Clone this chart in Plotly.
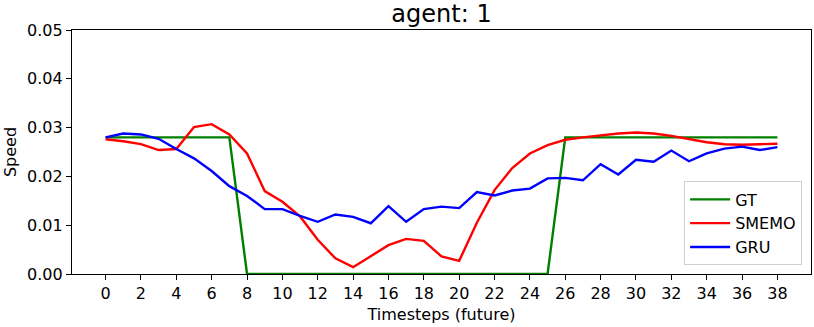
import plotly.graph_objects as go

# timesteps 0..38
timesteps = list(range(39))

gt_speed = [0.028] * 8 + [0.0] * 18 + [0.028] * 13

smemo_speed = [
    0.0276, 0.0272, 0.0266, 0.0254, 0.0256, 0.0301, 0.0307, 0.0286, 0.0247, 0.0170,
    0.0148, 0.0118, 0.0070, 0.0032, 0.0014, 0.0036, 0.0059, 0.0072, 0.0068, 0.0036,
    0.0027, 0.0105, 0.0172, 0.0217, 0.0247, 0.0264, 0.0275, 0.0280, 0.0284, 0.0288,
    0.0290, 0.0288, 0.0283, 0.0276, 0.0270, 0.0266, 0.0265, 0.0266, 0.0267,
]

gru_speed = [
    0.0280, 0.0288, 0.0286, 0.0277, 0.0256, 0.0237, 0.0211, 0.0180, 0.0160, 0.0133,
    0.0133, 0.0119, 0.0107, 0.0122, 0.0117, 0.0104, 0.0139, 0.0107, 0.0133, 0.0138,
    0.0135, 0.0168, 0.0161, 0.0171, 0.0175, 0.0196, 0.0197, 0.0192, 0.0225, 0.0204,
    0.0234, 0.0230, 0.0253, 0.0231, 0.0247, 0.0257, 0.0261, 0.0254, 0.0260,
]

x_ticks = list(range(0, 39, 2))
y_ticks = [0.0, 0.01, 0.02, 0.03, 0.04, 0.05]

font = "DejaVu Sans"
fsize = 16

fig = go.Figure()
fig.add_trace(go.Scatter(x=timesteps, y=gt_speed, mode="lines", name="GT",
                         line=dict(color="#008000", width=2.4)))
fig.add_trace(go.Scatter(x=timesteps, y=smemo_speed, mode="lines", name="SMEMO",
                         line=dict(color="#ff0000", width=2.4)))
fig.add_trace(go.Scatter(x=timesteps, y=gru_speed, mode="lines", name="GRU",
                         line=dict(color="#0000ff", width=2.4)))

axis_common = dict(
    showline=True, linecolor="black", linewidth=1.2, mirror=True,
    ticks="outside", ticklen=5, tickcolor="black", tickwidth=1,
    showgrid=False, zeroline=False, automargin=False,
    tickfont=dict(family=font, size=fsize, color="black"),
)

fig.update_xaxes(range=[-1.9, 39.9], tickvals=x_ticks,
                 title=dict(text="Timesteps (future)", font=dict(family=font, size=fsize, color="black"),
                            standoff=6),
                 **axis_common)
fig.update_yaxes(range=[0, 0.05], tickvals=y_ticks, tickformat=".2f",
                 title=dict(text="Speed", font=dict(family=font, size=fsize, color="black"),
                            standoff=6),
                 **axis_common)

fig.update_layout(
    width=814, height=327, autosize=False,
    margin=dict(l=72, r=3, t=30, b=53),
    plot_bgcolor="white", paper_bgcolor="white",
    title=dict(text="agent: 1", x=0.5, xanchor="center", y=0.957, yanchor="middle",
               xref="paper", font=dict(family=font, size=24, color="black")),
    legend=dict(x=0.988, y=0.035, xanchor="right", yanchor="bottom",
                bgcolor="white", bordercolor="#d0d0d0", borderwidth=1,
                font=dict(family=font, size=fsize, color="black"),
                tracegroupgap=2, itemwidth=40),
    showlegend=True,
)

fig.write_html(
    "out.html",
    config={"displayModeBar": False},
    post_script="document.body.style.margin='0';document.body.style.overflow='hidden';",
)
